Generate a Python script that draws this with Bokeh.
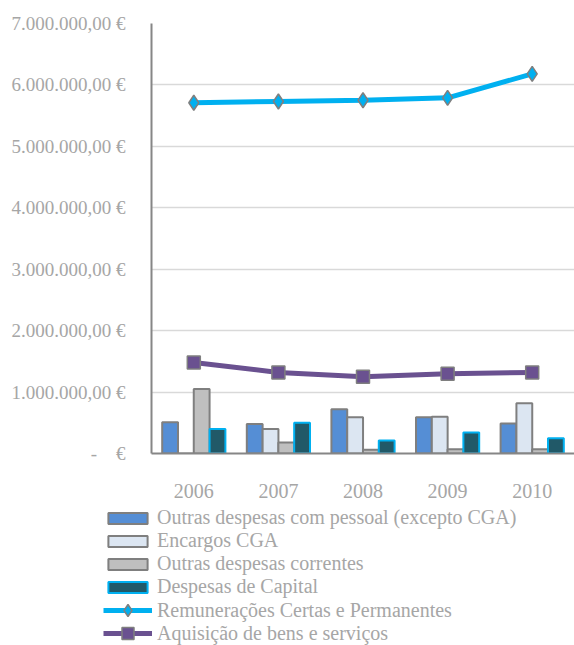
from bokeh.plotting import figure
from bokeh.layouts import column
from bokeh.models import (ColumnDataSource, FactorRange, FixedTicker, Legend, LegendItem, Range1d)
from bokeh.transform import dodge
from bokeh.embed import file_html
from bokeh.resources import INLINE

years = ["2006", "2007", "2008", "2009", "2010"]
outras_pessoal = [510000, 480000, 720000, 590000, 490000]
encargos_cga = [0, 400000, 590000, 600000, 820000]
outras_correntes = [1050000, 180000, 60000, 70000, 70000]
despesas_capital = [400000, 500000, 210000, 340000, 250000]
remuneracoes = [5710000, 5730000, 5750000, 5790000, 6180000]
aquisicao = [1480000, 1320000, 1250000, 1300000, 1320000]

y_ticks = [0, 1000000, 2000000, 3000000, 4000000, 5000000, 6000000, 7000000]
y_labels = ["-\u00a0\u00a0\u00a0\u00a0€", "1.000.000,00 €", "2.000.000,00 €", "3.000.000,00 €",
            "4.000.000,00 €", "5.000.000,00 €", "6.000.000,00 €", "7.000.000,00 €"]

labels = ["Outras despesas com pessoal (excepto CGA)", "Encargos CGA",
          "Outras despesas correntes", "Despesas de Capital",
          "Remunerações Certas e Permanentes", "Aquisição de bens e serviços"]

src = ColumnDataSource(dict(year=years, a=outras_pessoal, b=encargos_cga, c=outras_correntes,
                            d=despesas_capital, r=remuneracoes, q=aquisicao))

FONT = "Liberation Serif"
TXT = "#a6a6a6"

bar_specs = [("a", -0.28, "#558ed5", "#7f7f7f"), ("b", -0.093, "#dce6f2", "#7f7f7f"),
             ("c", 0.093, "#bfbfbf", "#7f7f7f"), ("d", 0.28, "#215968", "#00b0f0")]
CYAN = "#00b0f0"
PURPLE = "#6a5190"
MK_LINE = "#7f7f7f"


def draw_series(fig):
    out = []
    for col, off, fill, line in bar_specs:
        out.append([fig.vbar(x=dodge("year", off, range=fig.x_range), top=col, width=0.187,
                             source=src, fill_color=fill, line_color=line, line_width=2)])
    out.append([fig.line("year", "r", source=src, line_color=CYAN, line_width=5),
                fig.scatter("year", "r", source=src, marker="diamond", size=15, fill_color=CYAN,
                            line_color=MK_LINE, line_width=1.5)])
    out.append([fig.line("year", "q", source=src, line_color=PURPLE, line_width=5),
                fig.scatter("year", "q", source=src, marker="square", size=13, fill_color=PURPLE,
                            line_color=MK_LINE, line_width=1.5)])
    return out


p = figure(x_range=FactorRange(*years), y_range=Range1d(0, 7000000),
           width=574, height=505, output_backend="svg", toolbar_location=None,
           min_border_left=151, min_border_top=23, min_border_right=0, min_border_bottom=52)
p.frame_align = False
p.outline_line_color = None
p.x_range.range_padding = 0.0
draw_series(p)

p.yaxis.ticker = FixedTicker(ticks=y_ticks)
p.yaxis.major_label_overrides = {t: l for t, l in zip(y_ticks, y_labels)}
p.yaxis.major_tick_line_color = None
p.yaxis.minor_tick_line_color = None
p.yaxis.axis_line_color = "#868686"
p.yaxis.axis_line_width = 2
p.yaxis.major_label_standoff = 20
p.yaxis.major_label_text_font = FONT
p.yaxis.major_label_text_font_size = "19px"
p.yaxis.major_label_text_color = TXT

p.xaxis.major_tick_line_color = None
p.xaxis.minor_tick_line_color = None
p.xaxis.axis_line_color = "#868686"
p.xaxis.axis_line_width = 2
p.xaxis.major_label_standoff = 24
p.xaxis.major_label_text_font = FONT
p.xaxis.major_label_text_font_size = "20px"
p.xaxis.major_label_text_color = TXT

p.xgrid.grid_line_color = None
p.ygrid.grid_line_color = "#d9d9d9"
p.ygrid.grid_line_width = 1.5

# legend panel below the chart: its range holds none of the series' categories,
# so the series draw nothing there and only the legend shows
lg = figure(width=574, height=140, output_backend="svg", toolbar_location=None,
            x_axis_type=None, y_axis_type=None,
            min_border_left=0, min_border_right=0, min_border_top=0, min_border_bottom=0,
            x_range=FactorRange("legenda"), y_range=Range1d(100000000, 200000000))
lg.frame_align = False
lg.outline_line_color = None
lg.grid.grid_line_color = None
renders = draw_series(lg)

common = dict(orientation="vertical", label_text_font=FONT, label_text_font_size="20px",
              label_text_color=TXT, glyph_width=49, label_height=20, padding=0, margin=0,
              border_line_color=None, background_fill_alpha=0, label_standoff=5, spacing=0)
legend1 = Legend(items=[LegendItem(label=labels[i], renderers=renders[i]) for i in range(4)],
                 location=(103, 47), glyph_height=14, **common)
legend2 = Legend(items=[LegendItem(label=labels[4], renderers=renders[4])],
                 location=(103, 20), glyph_height=30, **common)
legend3 = Legend(items=[LegendItem(label=labels[5], renderers=renders[5])],
                 location=(103, -3), glyph_height=30, **common)
for lgd in (legend1, legend2, legend3):
    lg.add_layout(lgd, "center")

layout = column(p, lg, spacing=0)
open("out.html", "w").write(file_html(layout, INLINE))
